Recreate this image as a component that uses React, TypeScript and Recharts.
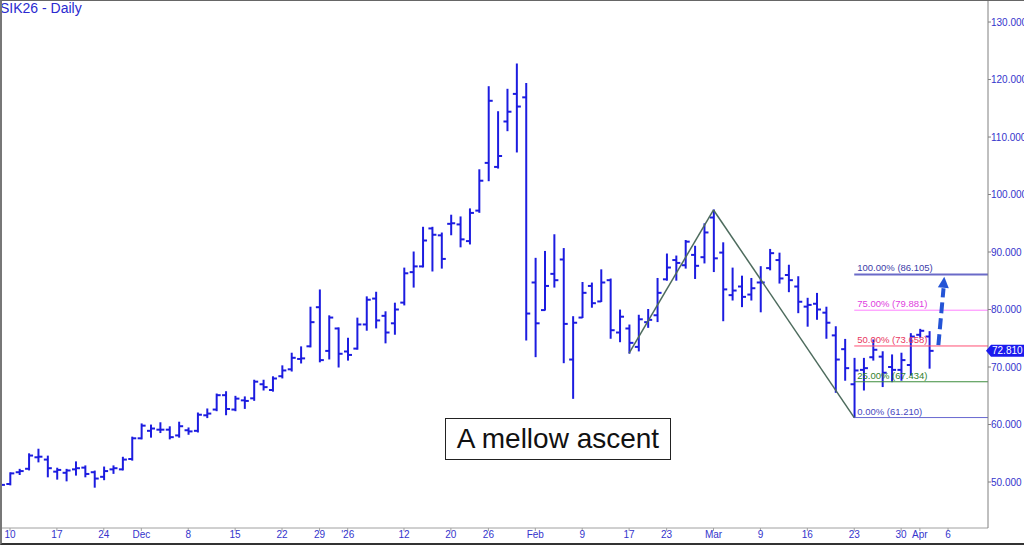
import React from "react"
import { ComposedChart, Bar, XAxis, YAxis, ReferenceLine, ReferenceDot } from "recharts"

// trading-day index (0 = Nov 10) and OHLC
const days = [
  -1, 0, 1, 2, 3, 4, 5, 6, 7, 8, 9, 10, 11, 12, 13, 14, 15, 16, 17, 18, 19, 20, 21, 22, 23, 24, 25, 26, 27, 28,
  29, 30, 31, 32, 33, 34, 35, 36, 37, 38, 39, 40, 41, 42, 43, 44, 45, 46, 47, 48, 49, 50, 51, 52, 53, 54, 55, 56, 57, 58,
  59, 60, 61, 62, 63, 64, 65, 66, 67, 68, 69, 70, 71, 72, 73, 74, 75, 76, 77, 78, 79, 80, 81, 82, 83, 84, 85, 86, 87, 88,
  89, 90, 91, 92, 93, 94, 95, 96, 97, 98,
]
const opens = [
  49.2, 49.65, 51.7, 52.3, 54.3, 53.9, 51.8, 51.6, 52.2, 52.5, 51.7, 50.9, 52.2, 52.2, 54.0, 57.6, 58.9, 59.1, 59.1, 58.1,
  59.0, 58.9, 61.6, 62.6, 65.1, 62.6, 64.2, 64.55, 67.0, 66.0, 68.4, 69.6, 71.4, 73.6, 80.4, 72.8, 76.7, 72.7, 73.2, 77.4,
  81.9, 78.9, 77.6, 81.2, 86.5, 87.5, 94.1, 92.9, 94.9, 94.8, 91.9, 97.2, 105.5, 104.8, 112.7, 117.5, 116.9, 84.7, 79.9, 86.2,
  88.7, 71.3, 78.6, 84.1, 81.4, 85.1, 76.0, 76.7, 73.5, 77.8, 79.0, 85.25, 88.6, 87.7, 89.5, 89.1, 96.0, 89.9, 82.5, 84.0,
  82.6, 84.7, 87.2, 88.6, 86.0, 84.0, 80.5, 81.0, 79.45, 75.5, 73.1, 67.0, 69.5, 71.7, 71.8, 70.0, 69.5, 70.35, 75.6, 75.3,
]
const highs = [
  49.9, 51.6, 52.2, 54.9, 55.7, 54.5, 52.4, 52.2, 53.5, 52.8, 51.9, 52.6, 52.8, 54.3, 57.8, 60.1, 59.9, 60.3, 59.6, 60.4,
  59.4, 62.0, 62.7, 65.3, 65.7, 64.9, 64.8, 67.7, 67.7, 68.3, 70.2, 72.4, 73.5, 80.4, 83.4, 78.9, 76.8, 75.0, 78.5, 82.2,
  83.0, 79.6, 81.1, 87.2, 90.0, 94.3, 94.3, 93.3, 96.4, 96.1, 97.5, 104.3, 118.75, 114.4, 118.3, 122.7, 119.3, 88.9, 90.1, 93.0,
  90.6, 78.75, 84.7, 84.6, 86.9, 85.3, 79.9, 77.3, 79.0, 80.0, 85.4, 89.65, 89.3, 92.0, 91.0, 94.9, 97.31, 91.6, 87.2, 85.8,
  85.4, 87.45, 90.45, 89.8, 87.7, 85.7, 81.95, 82.8, 80.4, 77.0, 74.8, 71.5, 71.5, 74.7, 72.65, 72.1, 72.4, 75.8, 76.55, 76.15,
]
const lows = [
  48.9, 49.5, 51.3, 52.1, 53.5, 50.9, 50.5, 50.2, 51.2, 50.9, 49.1, 50.4, 51.5, 52.1, 53.8, 57.5, 57.8, 58.6, 57.5, 57.8,
  58.3, 58.7, 61.2, 62.4, 61.7, 62.4, 62.8, 64.2, 66.0, 65.8, 68.1, 69.3, 70.7, 73.5, 70.9, 71.4, 70.0, 71.2, 73.1, 76.4,
  76.8, 74.2, 75.7, 80.8, 83.9, 87.4, 86.7, 87.2, 93.0, 90.9, 91.4, 96.9, 102.4, 104.6, 111.1, 107.4, 74.7, 71.8, 79.9, 83.9,
  70.75, 64.55, 78.6, 80.4, 81.4, 75.0, 74.4, 72.4, 72.8, 76.9, 77.9, 85.1, 85.1, 87.2, 85.4, 88.1, 86.6, 78.05, 81.65, 80.5,
  81.65, 79.6, 86.9, 84.6, 83.1, 79.45, 77.1, 78.3, 75.0, 65.6, 67.7, 61.21, 66.0, 71.2, 66.6, 67.45, 67.7, 68.6, 75.2, 69.8,
]
const closes = [
  49.5, 51.5, 51.9, 54.6, 54.4, 52.4, 52.1, 52.0, 52.4, 51.4, 50.6, 51.9, 52.4, 53.9, 57.6, 59.8, 59.3, 59.1, 57.8, 59.7,
  58.8, 61.7, 61.9, 65.1, 62.7, 64.5, 64.1, 67.45, 66.5, 68.0, 69.4, 71.6, 71.5, 77.8, 71.2, 78.6, 72.3, 72.1, 77.4, 81.7,
  78.1, 76.0, 80.0, 86.3, 87.5, 92.0, 93.0, 88.8, 95.0, 92.2, 96.8, 102.4, 116.3, 106.7, 114.4, 115.3, 79.3, 77.6, 84.1, 85.1,
  77.5, 77.7, 82.9, 81.1, 84.7, 76.4, 78.75, 74.2, 78.3, 78.2, 82.9, 87.3, 88.1, 91.8, 87.6, 93.4, 88.9, 83.5, 83.3, 82.2,
  83.7, 84.7, 89.8, 85.4, 85.1, 81.35, 80.8, 80.0, 77.7, 71.3, 69.8, 69.4, 69.8, 73.0, 69.0, 69.5, 71.2, 75.3, 76.3, 72.81,
]

const tickDays = [0, 5, 10, 14, 19, 24, 29, 33, 36, 42, 47, 51, 56, 61, 66, 70, 75, 80, 85, 90, 95, 97, 100]
const tickLabels = ["10", "17", "24", "Dec", "8", "15", "22", "29", "'26", "12", "20", "26", "Feb", "9", "17", "23", "Mar", "9", "16", "23", "30", "Apr", "6"]
const priceTicks = [50, 60, 70, 80, 90, 100, 110, 120, 130]

// retracement grid drawn from the Mar 23 low
const fibStartDay = 90
const fibPcts = ["0.00%", "25.00%", "50.00%", "75.00%", "100.00%"]
const fibValues = [61.21, 67.434, 73.658, 79.881, 86.105]
const fibLineColors = ["#6868d0", "#3c8c3c", "#ff4f74", "#ff80ff", "#6a6ac8"]
const fibTextColors = ["#4848c0", "#2f7f2f", "#e8365e", "#e040e0", "#3c3ca8"]

// swing line A-B-C
const swingDays = [66, 75, 90]
const swingValues = [72.415, 97.31, 61.21]

// projected move arrow
const arrowDays = [98.97, 99.52]
const arrowValues = [73.8, 83.7]
const arrowTip = { day: 99.6, value: 85.7 }

const lastPrice = 72.81

const X_MIN = -1.066
const X_MAX = 104.26

const bars = days.map((d, k) => ({ day: d, open: opens[k], high: highs[k], low: lows[k], close: closes[k] }))

const BLUE = "#1c1ce0"
const AXIS_TEXT = "#3434cc"

function OhlcBar(props: any) {
  const { x, y, width, height, payload } = props
  if (x == null || !payload) return null
  const cx = x + width / 2
  const top = Math.min(y, y + height)
  const bot = Math.max(y, y + height)
  const span = payload.high - payload.low || 1
  const yOf = (v: number) => top + ((payload.high - v) / span) * (bot - top)
  const yo = yOf(payload.open)
  const yc = yOf(payload.close)
  return (
    <g stroke={BLUE} strokeWidth={2}>
      <line x1={cx} x2={cx} y1={top - 0.5} y2={bot + 0.5} />
      <line x1={cx - 4} x2={cx} y1={yo} y2={yo} />
      <line x1={cx} x2={cx + 4} y1={yc} y2={yc} />
    </g>
  )
}

function ArrowHead(props: any) {
  const { cx, cy } = props
  if (cx == null) return null
  return (
    <polygon
      points={`${cx},${cy} ${cx - 5.5},${cy + 11} ${cx + 5.5},${cy + 11}`}
      fill="#2454d6"
      transform={`rotate(5 ${cx} ${cy})`}
    />
  )
}

function PriceTag(props: any) {
  const { cx, cy } = props
  if (cx == null) return null
  return (
    <g>
      <polygon points={`${cx - 2},${cy} ${cx + 3},${cy - 6} ${1024},${cy - 6} ${1024},${cy + 6} ${cx + 3},${cy + 6}`} fill="#1a1aee" />
      <text x={cx + 4} y={cy + 3.5} fill="#ffffff" fontSize={10} fontFamily="Arial">
        {lastPrice.toFixed(3)}
      </text>
    </g>
  )
}

export default function App() {
  return (
    <div style={{ position: "absolute", left: 0, top: 0, width: 1024, height: 545, background: "#fff", fontFamily: "Arial" }}>
      <ComposedChart width={1024} height={545} data={bars} margin={{ top: 0, right: 0, bottom: 0, left: 0 }}>
        <XAxis
          type="number"
          dataKey="day"
          domain={[X_MIN, X_MAX]}
          allowDataOverflow
          ticks={tickDays}
          interval={0}
          height={17}
          tickFormatter={(v: number) => tickLabels[tickDays.indexOf(v)] ?? ""}
          tick={{ fill: AXIS_TEXT, fontSize: 10, fontFamily: "Arial" }}
          tickSize={3}
          tickMargin={0}
          axisLine={{ stroke: "#a0a0a0" }}
          tickLine={{ stroke: "#a0a0a0" }}
        />
        <YAxis
          orientation="right"
          width={36}
          domain={[42, 133.83]}
          allowDataOverflow
          ticks={priceTicks}
          interval={0}
          tickFormatter={(v: number) => v.toFixed(3)}
          tick={{ fill: AXIS_TEXT, fontSize: 10, fontFamily: "Arial" }}
          tickSize={3}
          tickMargin={0}
          axisLine={{ stroke: "#808080" }}
          tickLine={{ stroke: "#808080" }}
        />
        {fibValues.map((v, k) => (
          <ReferenceLine
            key={`fib-${k}`}
            segment={[{ x: fibStartDay, y: v }, { x: X_MAX, y: v }]}
            stroke={fibLineColors[k]}
            strokeWidth={k === 4 ? 2 : 1}
            ifOverflow="visible"
            label={{
              value: `${fibPcts[k]} (${v.toFixed(3)})`,
              position: "insideBottomLeft",
              offset: 3,
              fill: fibTextColors[k],
              fontSize: 9.5,
              fontFamily: "Arial",
            }}
          />
        ))}
        {swingDays.slice(1).map((d, k) => (
          <ReferenceLine
            key={`swing-${k}`}
            segment={[{ x: swingDays[k], y: swingValues[k] }, { x: d, y: swingValues[k + 1] }]}
            stroke="#4d6b5d"
            strokeWidth={1.5}
            ifOverflow="visible"
          />
        ))}
        <Bar dataKey={(d: any) => [d.low, d.high]} barSize={8} shape={<OhlcBar />} isAnimationActive={false} />
        <ReferenceLine
          segment={[{ x: arrowDays[0], y: arrowValues[0] }, { x: arrowDays[1], y: arrowValues[1] }]}
          stroke="#2454d6"
          strokeWidth={4}
          strokeDasharray="11 5"
          ifOverflow="visible"
        />
        <ReferenceDot x={arrowTip.day} y={arrowTip.value} r={5} shape={<ArrowHead />} ifOverflow="visible" />
        <ReferenceDot x={X_MAX} y={lastPrice} r={5} shape={<PriceTag />} ifOverflow="visible" />
      </ComposedChart>

      <div
        style={{
          position: "absolute",
          left: 0,
          top: 0,
          fontSize: 14,
          lineHeight: "16px",
          color: "#2a2ad0",
          fontFamily: "Arial",
        }}
      >
        SIK26 - Daily
      </div>

      <div
        style={{
          position: "absolute",
          left: 445,
          top: 418,
          width: 226,
          height: 42,
          boxSizing: "border-box",
          border: "1.5px solid #222",
          background: "#fff",
          fontSize: 28,
          lineHeight: "39px",
          textAlign: "center",
          color: "#111",
          fontFamily: "Arial",
        }}
      >
        A mellow ascent
      </div>

      <div
        style={{
          position: "absolute",
          left: 0,
          top: 0,
          width: 1024,
          height: 545,
          boxSizing: "border-box",
          borderTop: "1px solid #666",
          borderLeft: "2px solid #777",
          borderBottom: "2px solid #333",
          pointerEvents: "none",
        }}
      />
    </div>
  )
}
